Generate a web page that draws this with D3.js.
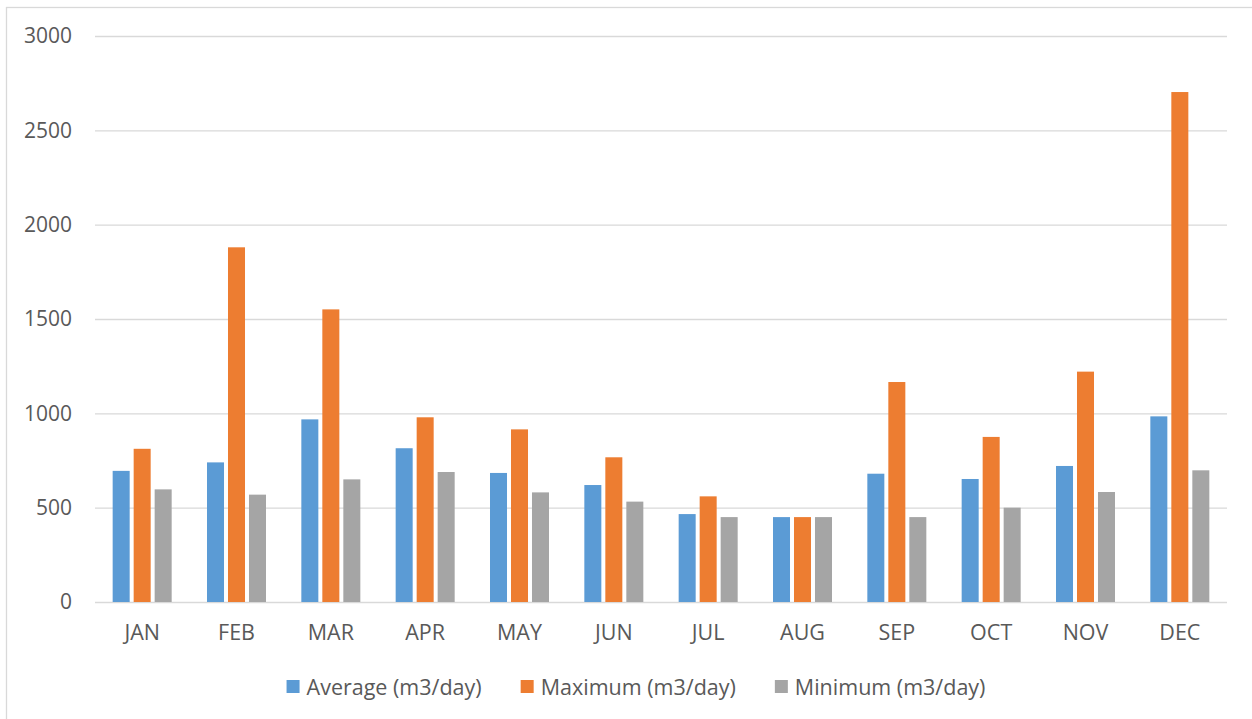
<!DOCTYPE html>
<html>
<head>
<meta charset="utf-8">
<script src="https://cdn.jsdelivr.net/npm/d3@7/dist/d3.min.js"></script>
<style>
  html, body { margin: 0; padding: 0; background: #fff; }
  svg { display: block; }
  text { font-family: "Open Sans", "Noto Sans", sans-serif; fill: #595959; }
</style>
</head>
<body>
<script>
// Monthly flow statistics (m3/day)
const months = ["JAN", "FEB", "MAR", "APR", "MAY", "JUN", "JUL", "AUG", "SEP", "OCT", "NOV", "DEC"];
const seriesNames = ["Average (m3/day)", "Maximum (m3/day)", "Minimum (m3/day)"];
const averageValues = [695, 740, 968, 815, 684, 620, 466, 450, 680, 652, 721, 984];
const maximumValues = [812, 1880, 1551, 979, 915, 767, 560, 450, 1166, 875, 1221, 2703];
const minimumValues = [597, 569, 650, 689, 581, 532, 450, 450, 450, 500, 583, 698];
const yTicks = [0, 500, 1000, 1500, 2000, 2500, 3000];
const seriesColors = ["#5B9BD5", "#ED7D31", "#A5A5A5"];

const W = 1252, H = 719;
const plot = { left: 95, right: 1227, top: 36, bottom: 602 };

const seriesValues = [averageValues, maximumValues, minimumValues];
const rows = months.map((m, i) => ({
  month: m,
  values: seriesNames.map((s, k) => ({ series: s, value: seriesValues[k][i], color: seriesColors[k] }))
}));

const svg = d3.select("body").append("svg").attr("width", W).attr("height", H);

// chart frame
svg.append("rect")
  .attr("x", 6.5).attr("y", 7.5).attr("width", W + 10).attr("height", H + 10)
  .attr("fill", "#fff").attr("stroke", "#D9D9D9").attr("stroke-width", 1.3);

const y = d3.scaleLinear().domain([0, 3000]).range([plot.bottom, plot.top]);

const groupPad = 0.3745;
const x0 = d3.scaleBand().domain(months).range([plot.left, plot.right])
  .paddingInner(groupPad).paddingOuter(groupPad / 2);
const x1 = d3.scaleBand().domain(seriesNames).range([0, x0.bandwidth()])
  .paddingInner(0.19).paddingOuter(0);

// horizontal gridlines and value labels
const yAxis = d3.axisLeft(y).tickValues(yTicks).tickSize(-(plot.right - plot.left)).tickPadding(23)
  .tickFormat(d3.format("d"));
const gy = svg.append("g").attr("transform", `translate(${plot.left},0)`).call(yAxis);
gy.select(".domain").remove();
gy.selectAll(".tick line").attr("stroke", "#D9D9D9").attr("stroke-width", 1.3);
gy.selectAll(".tick text").attr("font-size", "21px").attr("fill", "#595959")
  .attr("font-family", "'Open Sans', 'Noto Sans', sans-serif");

// bars
const groups = svg.append("g").selectAll("g").data(rows).join("g")
  .attr("transform", d => `translate(${x0(d.month)},0)`);
groups.selectAll("rect").data(d => d.values).join("rect")
  .attr("x", d => x1(d.series))
  .attr("width", x1.bandwidth())
  .attr("y", d => y(d.value))
  .attr("height", d => y(0) - y(d.value))
  .attr("fill", d => d.color);

// category axis
const xAxis = d3.axisBottom(x0).tickSize(0).tickPadding(23);
const gx = svg.append("g").attr("transform", `translate(0,${plot.bottom})`).call(xAxis);
gx.select(".domain").remove();
gx.selectAll(".tick text").attr("font-size", "21.5px").attr("fill", "#595959")
  .attr("font-family", "'Open Sans', 'Noto Sans', sans-serif");

// legend
const legend = svg.append("g");
const items = legend.selectAll("g").data(seriesNames).join("g");
items.append("rect").attr("width", 13).attr("height", 13).attr("y", 680)
  .attr("fill", (d, i) => seriesColors[i]);
items.append("text").attr("x", 20).attr("y", 694.5).attr("font-size", "21.5px").text(d => d);
const itemGap = 39;
const widths = [];
items.each(function () { widths.push(20 + this.querySelector("text").getComputedTextLength()); });
const total = d3.sum(widths) + itemGap * (widths.length - 1);
let cx = 636 - total / 2;
items.attr("transform", (d, i) => {
  const t = `translate(${cx},0)`;
  cx += widths[i] + itemGap;
  return t;
});
</script>
</body>
</html>
